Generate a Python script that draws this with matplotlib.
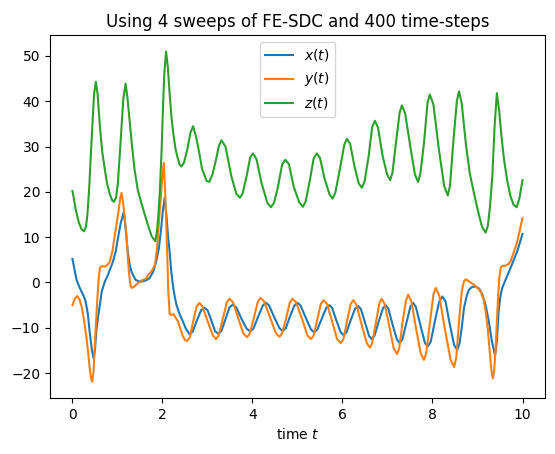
import matplotlib.pyplot as plt

# values (time, value) per component
t_x = [0.00, 0.05, 0.09, 0.15, 0.20, 0.25, 0.29, 0.34, 0.38, 0.43, 0.47, 0.50, 0.53, 0.57, 0.61, 0.65,
       0.72, 0.79, 0.90, 0.96, 1.01, 1.07, 1.14, 1.18, 1.23, 1.27, 1.31, 1.40, 1.46, 1.53, 1.62, 1.71,
       1.80, 1.86, 1.92, 1.97, 2.01, 2.05, 2.09, 2.13, 2.16, 2.20, 2.23, 2.27, 2.31, 2.38, 2.45, 2.52,
       2.60, 2.67, 2.76, 2.86, 2.93, 3.00, 3.09, 3.17, 3.24, 3.31, 3.40, 3.49, 3.56, 3.64, 3.75, 3.87,
       3.95, 4.02, 4.12, 4.23, 4.30, 4.37, 4.48, 4.60, 4.67, 4.74, 4.83, 4.93, 5.00, 5.07, 5.18, 5.30,
       5.37, 5.44, 5.54, 5.64, 5.71, 5.77, 5.86, 5.96, 6.02, 6.09, 6.18, 6.28, 6.35, 6.41, 6.50, 6.59,
       6.65, 6.71, 6.80, 6.90, 6.96, 7.02, 7.11, 7.21, 7.27, 7.33, 7.42, 7.51, 7.57, 7.63, 7.73, 7.83,
       7.89, 7.96, 8.05, 8.15, 8.22, 8.29, 8.38, 8.48, 8.55, 8.60, 8.65, 8.70, 8.76, 8.81, 8.88, 8.96,
       9.04, 9.11, 9.18, 9.25, 9.32, 9.39, 9.43, 9.47, 9.51, 9.55, 9.64, 9.73, 9.88, 10.00]
x_vals = [5.2, 2.6, 0.6, -0.9, -2.0, -3.0, -4.1, -6.8, -10.7, -14.8, -16.8, -15.0, -10.7, -7.5, -4.9, -2.0,
          0.2, 1.7, 4.6, 6.8, 9.7, 13.0, 15.6, 12.0, 6.8, 4.0, 2.4, 0.6, 0.3, 0.2, 0.4, 0.9,
          2.5, 4.6, 7.5, 11.8, 16.0, 18.7, 14.5, 9.5, 6.8, 2.0, -0.5, -3.0, -4.9, -7.0, -8.5, -10.2,
          -11.4, -10.9, -8.5, -6.1, -5.6, -6.1, -8.5, -10.8, -11.3, -10.7, -8.1, -5.5, -4.9, -5.5, -7.9, -10.2,
          -10.8, -10.2, -7.7, -5.1, -4.5, -5.1, -7.6, -10.1, -10.7, -10.1, -7.6, -5.1, -4.5, -5.1, -7.7, -10.4,
          -11.0, -10.4, -8.0, -5.6, -5.0, -5.6, -8.3, -11.0, -11.6, -11.0, -8.4, -5.8, -5.2, -5.9, -8.8, -11.8,
          -12.5, -11.8, -8.8, -5.7, -5.0, -5.8, -9.2, -12.6, -13.4, -12.6, -9.0, -5.3, -4.5, -5.4, -9.4, -13.3,
          -14.2, -13.1, -8.7, -4.2, -3.1, -4.2, -9.0, -13.8, -14.9, -13.5, -10.0, -5.6, -3.0, -1.6, -1.0, -0.9,
          -1.4, -2.7, -5.0, -8.5, -13.0, -16.1, -13.0, -6.3, -3.0, -1.2, 1.0, 3.1, 6.8, 10.7]

t_y = [0.00, 0.05, 0.11, 0.16, 0.21, 0.26, 0.31, 0.35, 0.38, 0.41, 0.44, 0.47, 0.49, 0.52, 0.55, 0.58,
       0.61, 0.65, 0.72, 0.78, 0.83, 0.89, 0.94, 0.99, 1.03, 1.06, 1.09, 1.12, 1.16, 1.20, 1.23, 1.26,
       1.29, 1.31, 1.36, 1.46, 1.55, 1.64, 1.68, 1.76, 1.83, 1.88, 1.91, 1.95, 1.99, 2.03, 2.06, 2.08,
       2.11, 2.13, 2.16, 2.20, 2.24, 2.27, 2.34, 2.40, 2.45, 2.50, 2.55, 2.61, 2.68, 2.76, 2.82, 2.89,
       3.00, 3.12, 3.19, 3.25, 3.34, 3.43, 3.49, 3.57, 3.68, 3.80, 3.88, 3.94, 4.03, 4.12, 4.18, 4.26,
       4.39, 4.52, 4.60, 4.66, 4.75, 4.83, 4.89, 4.97, 5.10, 5.22, 5.30, 5.36, 5.44, 5.52, 5.58, 5.66,
       5.77, 5.88, 5.96, 6.02, 6.10, 6.18, 6.24, 6.31, 6.42, 6.54, 6.61, 6.66, 6.74, 6.82, 6.87, 6.94,
       7.04, 7.14, 7.21, 7.26, 7.33, 7.41, 7.46, 7.53, 7.63, 7.74, 7.81, 7.86, 7.94, 8.02, 8.07, 8.15,
       8.27, 8.40, 8.48, 8.53, 8.57, 8.61, 8.65, 8.70, 8.74, 8.82, 8.92, 9.00, 9.07, 9.13, 9.18, 9.23,
       9.27, 9.31, 9.34, 9.37, 9.40, 9.43, 9.46, 9.49, 9.52, 9.57, 9.62, 9.68, 9.73, 9.80, 9.88, 9.94,
       10.00]
y_vals = [-5.0, -3.6, -3.0, -3.8, -5.6, -8.5, -12.1, -15.5, -18.7, -21.0, -21.9, -19.5, -15.0, -9.5, -4.1, 0.5,
          3.2, 3.6, 3.5, 3.9, 4.6, 7.0, 10.4, 13.5, 16.2, 18.5, 19.8, 18.0, 14.5, 10.4, 5.5, 1.7,
          -0.6, -1.2, -1.0, -0.1, 0.5, 0.9, 1.7, 2.5, 3.8, 7.5, 11.8, 17.0, 22.5, 26.4, 20.0, 14.0,
          5.0, -2.0, -7.0, -7.2, -7.0, -7.4, -8.5, -10.3, -11.8, -12.7, -12.9, -12.1, -8.7, -5.3, -4.5, -5.3,
          -8.5, -11.7, -12.5, -11.7, -8.0, -4.4, -3.6, -4.4, -7.8, -11.3, -12.1, -11.3, -7.8, -4.2, -3.4, -4.2,
          -7.7, -11.2, -12.0, -11.2, -7.8, -4.4, -3.6, -4.4, -8.0, -11.7, -12.5, -11.7, -8.2, -4.7, -3.9, -4.8,
          -8.6, -12.5, -13.4, -12.5, -8.6, -4.8, -3.9, -4.9, -9.1, -13.4, -14.4, -13.4, -9.0, -4.6, -3.6, -4.8,
          -9.7, -14.6, -15.8, -14.6, -9.2, -4.0, -2.7, -4.1, -9.9, -15.7, -17.1, -15.6, -9.2, -2.7, -1.2, -2.9,
          -10.0, -17.0, -18.7, -16.5, -11.0, -6.3, -2.0, 0.3, 0.7, 0.2, -0.5, -1.2, -2.0, -3.5, -6.3, -10.5,
          -15.0, -19.5, -21.2, -19.5, -15.0, -9.0, -2.7, 1.5, 3.4, 3.7, 3.7, 4.0, 4.6, 6.5, 8.9, 11.5,
          14.2]

t_z = [0.00, 0.04, 0.07, 0.14, 0.20, 0.26, 0.30, 0.33, 0.37, 0.41, 0.45, 0.48, 0.52, 0.56, 0.61, 0.66,
       0.72, 0.77, 0.83, 0.88, 0.92, 0.97, 1.01, 1.05, 1.09, 1.13, 1.18, 1.22, 1.27, 1.32, 1.38, 1.45,
       1.53, 1.60, 1.68, 1.76, 1.84, 1.88, 1.91, 1.94, 1.98, 2.01, 2.04, 2.08, 2.12, 2.16, 2.20, 2.25,
       2.29, 2.33, 2.38, 2.42, 2.48, 2.55, 2.62, 2.68, 2.75, 2.82, 2.88, 2.93, 2.98, 3.04, 3.11, 3.19,
       3.25, 3.31, 3.40, 3.53, 3.64, 3.72, 3.78, 3.87, 3.95, 4.01, 4.09, 4.20, 4.33, 4.41, 4.48, 4.57,
       4.66, 4.73, 4.81, 4.92, 5.04, 5.12, 5.18, 5.27, 5.36, 5.43, 5.50, 5.60, 5.71, 5.78, 5.84, 5.94,
       6.04, 6.10, 6.17, 6.27, 6.36, 6.43, 6.49, 6.58, 6.66, 6.72, 6.79, 6.89, 6.99, 7.06, 7.11, 7.19,
       7.27, 7.32, 7.39, 7.50, 7.61, 7.68, 7.73, 7.81, 7.89, 7.94, 8.02, 8.14, 8.26, 8.34, 8.39, 8.46,
       8.54, 8.59, 8.65, 8.74, 8.83, 8.92, 9.01, 9.10, 9.18, 9.23, 9.28, 9.33, 9.38, 9.43, 9.48, 9.53,
       9.59, 9.66, 9.73, 9.80, 9.87, 9.93, 10.00]
z_vals = [20.2, 18.0, 16.2, 13.3, 11.8, 11.3, 12.3, 14.7, 20.5, 28.5, 36.0, 41.6, 44.3, 41.5, 34.4, 29.0,
          24.9, 21.8, 19.5, 18.2, 17.8, 18.8, 22.0, 28.0, 34.4, 40.5, 43.9, 41.0, 35.8, 30.5, 24.9, 20.5,
          17.6, 15.2, 12.6, 10.2, 9.1, 11.5, 15.0, 19.8, 29.0, 38.0, 46.0, 51.0, 47.5, 41.6, 36.5, 32.2,
          29.5, 27.8, 26.0, 25.6, 26.5, 29.3, 33.0, 34.5, 32.0, 28.5, 25.0, 23.8, 22.4, 22.2, 23.8, 27.1,
          30.0, 31.4, 30.0, 23.5, 19.6, 18.7, 19.6, 23.5, 27.6, 28.5, 27.2, 22.0, 17.6, 16.6, 17.6, 21.3,
          26.1, 27.1, 26.1, 21.0, 17.7, 16.7, 17.8, 22.3, 27.4, 28.5, 27.5, 23.0, 19.5, 18.5, 19.8, 24.9,
          30.4, 31.7, 30.6, 25.5, 21.9, 20.9, 22.3, 27.8, 34.3, 35.7, 34.2, 28.0, 23.9, 22.6, 24.2, 31.0,
          37.5, 39.1, 37.4, 30.5, 23.8, 22.2, 24.0, 30.7, 39.7, 41.5, 39.3, 29.5, 21.3, 19.2, 21.4, 30.7,
          40.0, 42.2, 39.5, 30.7, 24.0, 19.8, 15.8, 12.3, 11.0, 12.5, 17.0, 23.5, 34.5, 41.8, 38.0, 32.5,
          27.1, 22.5, 19.1, 17.2, 16.6, 18.5, 22.6]

fig = plt.figure(figsize=(5.55, 4.54), dpi=100)
ax = fig.add_axes([0.09, 0.123, 0.892, 0.8])
ax.plot(t_x, x_vals, label='$x(t)$')
ax.plot(t_y, y_vals, label='$y(t)$')
ax.plot(t_z, z_vals, label='$z(t)$')
ax.set_xlabel('time $t$')
ax.set_title('Using 4 sweeps of FE-SDC and 400 time-steps')
ax.legend(loc='upper center')
fig.savefig('out.png')
